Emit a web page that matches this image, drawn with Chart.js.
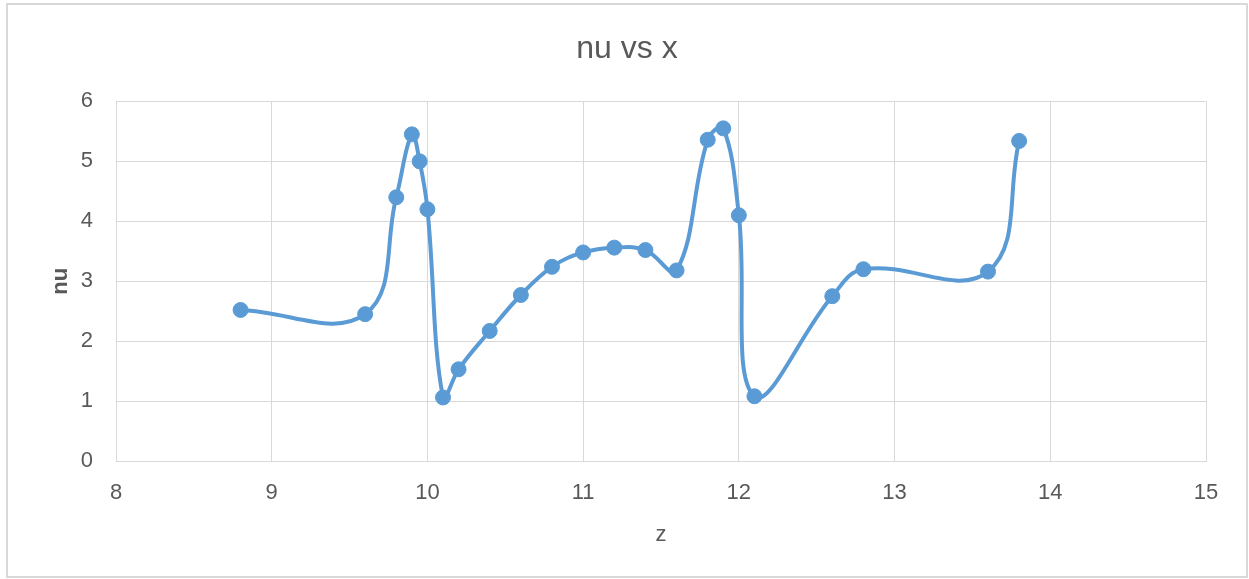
<!DOCTYPE html>
<html>
<head>
<meta charset="utf-8">
<title>nu vs x</title>
<script src="https://cdn.jsdelivr.net/npm/chart.js@4.4.1/dist/chart.umd.min.js"></script>
<style>
  html, body { margin: 0; padding: 0; background: #fff; }
  #wrap { position: relative; width: 1249px; height: 579px; }
  #frame {
    position: absolute; left: 6px; top: 3px; width: 1238px; height: 571px;
    border: 2px solid #d9d9d9; box-sizing: content-box;
  }
  #chart { position: absolute; left: 0; top: 0; }
</style>
</head>
<body>
<div id="wrap">
  <div id="frame"></div>
  <canvas id="chart" width="1249" height="579"></canvas>
</div>
<script>
// Data
const zValues = [8.8, 9.6, 9.8, 9.9, 9.95, 10.0, 10.1, 10.2, 10.4, 10.6, 10.8, 11.0, 11.2, 11.4, 11.6,
                 11.8, 11.9, 12.0, 12.1, 12.6, 12.8, 13.6, 13.8];
const nuValues = [2.52, 2.45, 4.4, 5.45, 5.0, 4.2, 1.06, 1.53, 2.17, 2.77, 3.24, 3.48, 3.56, 3.52, 3.18,
                  5.36, 5.55, 4.1, 1.08, 2.75, 3.2, 3.16, 5.34];

const xMin = 8, xMax = 15, xStep = 1;
const yMin = 0, yMax = 6, yStep = 1;

const textColor = '#595959';
const gridColor = '#d9d9d9';
const lineColor = '#5b9bd5';
const fontFamily = '"Liberation Sans", Arial, sans-serif';

const points = zValues.map((z, i) => ({ x: z, y: nuValues[i] }));

const ctx = document.getElementById('chart').getContext('2d');
new Chart(ctx, {
    type: 'scatter',
    data: {
        datasets: [{
            label: 'nu',
            data: points,
            showLine: true,
            borderColor: lineColor,
            backgroundColor: lineColor,
            borderWidth: 4,
            tension: 0.4,
            pointRadius: 7.5,
            pointBorderWidth: 1,
            pointBorderColor: lineColor,
            pointBackgroundColor: lineColor
        }]
    },
    options: {
        responsive: false,
        animation: false,
        layout: {
            padding: { left: 48, right: 43, top: 0, bottom: 4 }
        },
        plugins: {
            legend: { display: false },
            tooltip: { enabled: false },
            title: {
                display: true,
                text: 'nu vs x',
                color: textColor,
                font: { family: fontFamily, size: 32, weight: 'normal' },
                padding: { top: 30, bottom: 33 }
            }
        },
        scales: {
            x: {
                type: 'linear',
                min: xMin,
                max: xMax,
                afterFit: function(scale) { scale.height = 114; },
                ticks: {
                    stepSize: xStep,
                    color: textColor,
                    padding: 19,
                    font: { family: fontFamily, size: 22 }
                },
                grid: { color: gridColor, drawTicks: false },
                border: { color: gridColor },
                title: {
                    display: true,
                    text: 'z',
                    color: textColor,
                    font: { family: fontFamily, size: 22 },
                    padding: { top: 0, bottom: 27 }
                }
            },
            y: {
                min: yMin,
                max: yMax,
                afterFit: function(scale) { scale.width = 68; },
                ticks: {
                    stepSize: yStep,
                    color: textColor,
                    padding: 23,
                    font: { family: fontFamily, size: 22 }
                },
                grid: { color: gridColor, drawTicks: false },
                border: { color: gridColor },
                title: {
                    display: true,
                    text: 'nu',
                    color: textColor,
                    font: { family: fontFamily, size: 22, weight: 'bold' },
                    padding: 0
                }
            }
        }
    }
});
</script>
</body>
</html>
